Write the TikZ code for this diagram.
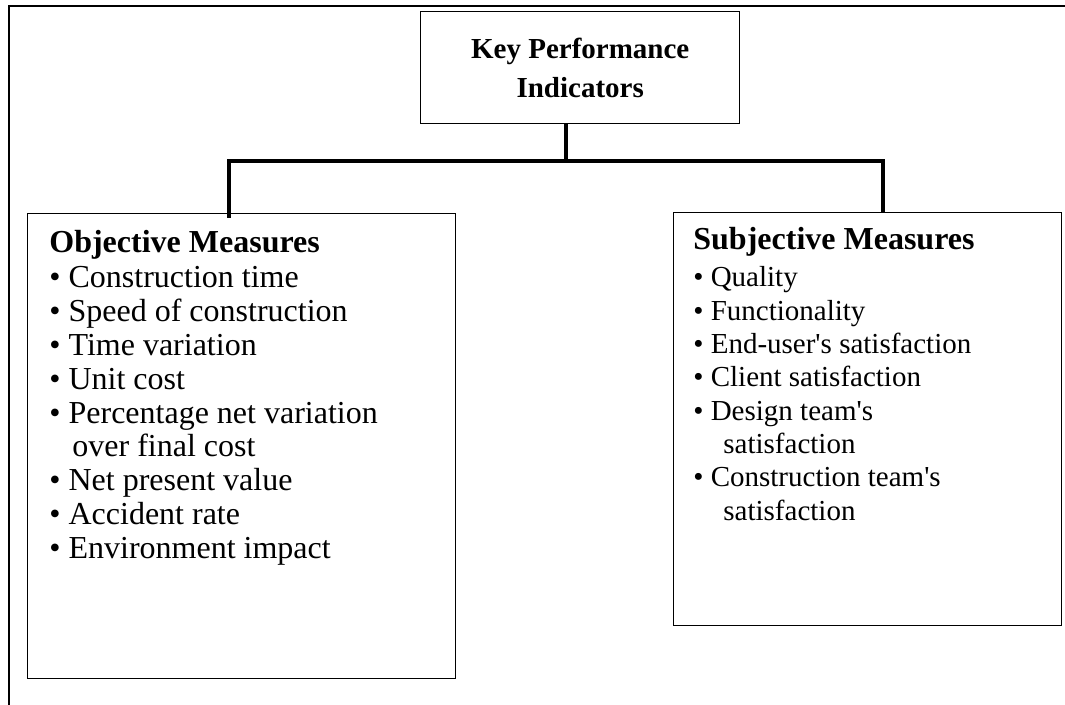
\documentclass[tikz,border=0pt]{standalone}
\usepackage{fontspec}
\setmainfont{Liberation Serif}
\usetikzlibrary{positioning, calc}

\begin{document}
\begin{tikzpicture}[x=0.5pt,y=-0.5pt,
        frame/.style={% outer page frame
            line width=1.3pt,
            },
        box/.style={% for the three boxes
            rectangle,
            draw,
            line width=0.7pt,
            inner sep=0pt,
            anchor=north west,
            },
        link/.style={% the thick tree lines
            line width=2pt,
            miter limit=4,
            },
        head/.style={% top box text
            font=\fontsize{14.5}{19.5}\selectfont\bfseries,
            align=center,
            },
        ltitle/.style={anchor=base west,inner sep=0pt,font=\fontsize{16}{17}\selectfont\bfseries},
        litem/.style={anchor=base west,inner sep=0pt,font=\fontsize{16}{17}\selectfont},
        ritem/.style={anchor=base west,inner sep=0pt,font=\fontsize{14.5}{16.75}\selectfont},
            ]
        \useasboundingbox (0,0) rectangle (1065,705);
        \draw[frame] (9,705) -- (9,6) -- (1066,6);
        % the boxes
        \node[box,head,minimum width=159.5pt,minimum height=56pt] (kpi) at (420,11) {Key Performance\\Indicators};
        \node[box,minimum width=214pt,minimum height=232.5pt] (obj) at (27,213) {};
        \node[box,minimum width=194pt,minimum height=206.5pt] (subj) at (673,212) {};
        % the tree lines
        \coordinate (hub) at (566,161);
        \coordinate (lj) at (229,161);
        \coordinate (rj) at (883,161);
        \draw[link] (kpi.south -| hub) -- (hub);
        \draw[link] ($(lj |- obj.north)+(0,5)$) -- (lj) -- (rj) -- (rj |- subj.north);
        % objective measures
        \node[ltitle] (otitle) at (49,253) {Objective Measures};
        \foreach \t [count=\i from 0] in {%
            \textbullet\ Construction time,
            \textbullet\ Speed of construction,
            \textbullet\ Time variation,
            \textbullet\ Unit cost,
            \textbullet\ Percentage net variation,
            \hspace*{11.5pt}over final cost,
            \textbullet\ Net present value,
            \textbullet\ Accident rate,
            \textbullet\ Environment impact}
            \node[litem] (o\i) at (49,288+33.75*\i) {\t};
        % subjective measures
        \node[ltitle] (stitle) at (693,250) {Subjective Measures};
        \foreach \t [count=\i from 0] in {%
            \textbullet\ Quality,
            \textbullet\ Functionality,
            \textbullet\ End-user\textquotesingle s satisfaction,
            \textbullet\ Client satisfaction,
            \textbullet\ Design team\textquotesingle s,
            \hspace*{15pt}satisfaction,
            \textbullet\ Construction team\textquotesingle s,
            \hspace*{15pt}satisfaction}
            \node[ritem] (s\i) at (693,287+33.3*\i) {\t};
\end{tikzpicture}
\end{document}
